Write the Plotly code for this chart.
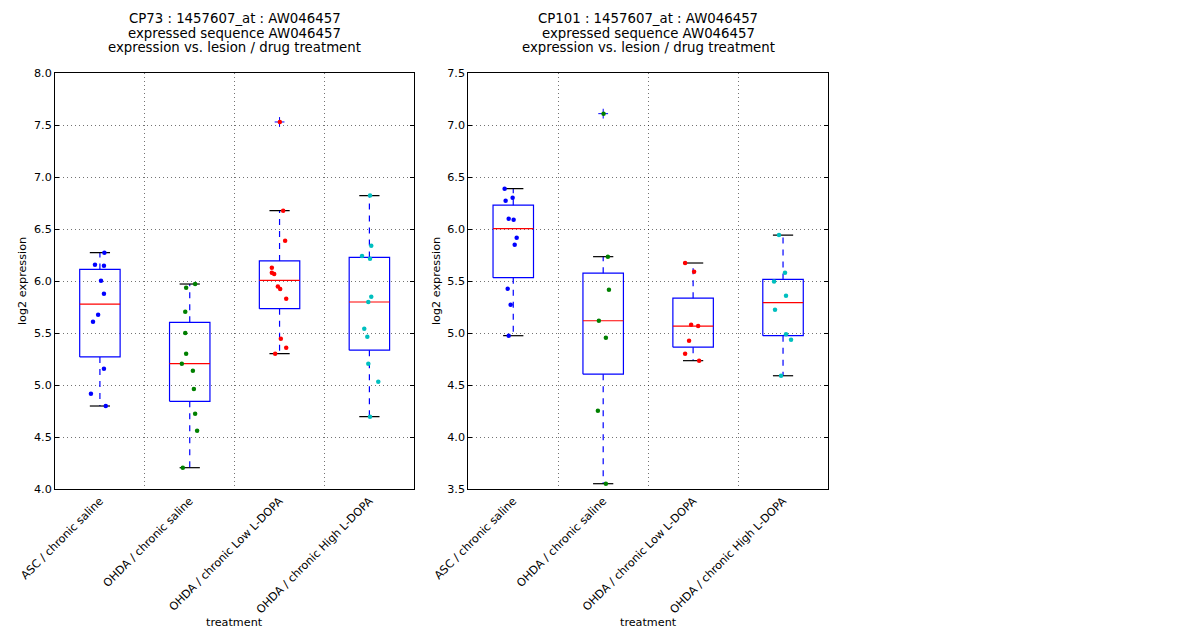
import numpy as np
import plotly.graph_objects as go

categories = ["ASC / chronic saline", "OHDA / chronic saline",
              "OHDA / chronic Low L-DOPA", "OHDA / chronic High L-DOPA"]
colors = ["#0000ff", "#008000", "#ff0000", "#00bfbf"]

# Left panel: CP73
cp73_asc = [6.272, 6.157, 6.147, 6.003, 5.878, 5.676, 5.609, 5.157, 4.916, 4.798]
cp73_ohda_sal = [5.971, 5.936, 5.705, 5.500, 5.301, 5.205, 5.138, 4.962, 4.724, 4.561, 4.205]
cp73_low = [7.529, 6.676, 6.388, 6.128, 6.080, 6.067, 5.946, 5.923, 5.830, 5.445, 5.359, 5.301]
cp73_high = [6.821, 6.340, 6.240, 6.214, 5.849, 5.798, 5.542, 5.465, 5.205, 5.032, 4.695]
cp73_jit_asc = [0.05, -0.055, 0.045, 0.012, 0.045, -0.02, -0.077, 0.045, -0.10, 0.065]
cp73_jit_ohda_sal = [0.06, -0.04, -0.05, -0.05, -0.04, -0.088, 0.035, 0.046, 0.06, 0.082, -0.077]
cp73_jit_low = [0.003, 0.04, 0.062, -0.086, -0.086, -0.06, -0.019, 0.007, 0.074, 0.014, 0.074, -0.049]
cp73_jit_high = [0.007, 0.021, -0.082, 0.007, 0.021, -0.012, -0.057, -0.023, -0.012, 0.099, 0.007]

# Right panel: CP101
cp101_asc = [6.388, 6.301, 6.272, 6.099, 6.090, 5.916, 5.849, 5.426, 5.272, 4.974]
cp101_ohda_sal = [7.109, 5.734, 5.416, 5.118, 4.955, 4.253, 3.551]
cp101_low = [5.673, 5.590, 5.080, 5.067, 4.926, 4.801, 4.734]
cp101_high = [5.942, 5.580, 5.494, 5.359, 5.224, 4.987, 4.936, 4.589]
cp101_jit_asc = [-0.096, -0.007, -0.085, -0.051, 0.004, 0.038, 0.016, -0.062, -0.029, -0.051]
cp101_jit_ohda_sal = [0.004, 0.052, 0.064, -0.048, 0.03, -0.059, 0.03]
cp101_jit_low = [-0.089, 0.011, -0.022, 0.056, -0.045, -0.089, 0.067]
cp101_jit_high = [-0.045, 0.022, -0.1, 0.033, -0.089, 0.033, 0.089, -0.022]

panels = [
    dict(title=["CP73 : 1457607_at : AW046457", "expressed sequence AW046457",
                "expression vs. lesion / drug treatment"],
         data=[cp73_asc, cp73_ohda_sal, cp73_low, cp73_high],
         jit=[cp73_jit_asc, cp73_jit_ohda_sal, cp73_jit_low, cp73_jit_high],
         yrange=[4.0, 8.0], xa="x", ya="y"),
    dict(title=["CP101 : 1457607_at : AW046457", "expressed sequence AW046457",
                "expression vs. lesion / drug treatment"],
         data=[cp101_asc, cp101_ohda_sal, cp101_low, cp101_high],
         jit=[cp101_jit_asc, cp101_jit_ohda_sal, cp101_jit_low, cp101_jit_high],
         yrange=[3.5, 7.5], xa="x2", ya="y2"),
]

W, H = 1200, 640
domains_x = [[55 / W, 414.3 / W], [468.3 / W, 828 / W]]
dom_y = [1 - 489 / H, 1 - 73 / H]
box_w = 0.45
cap_w = 0.225
TITLE_FS = 13.3
TICK_FS = 11.2
LABEL_FS = 11.2

fig = go.Figure()

for pi, p in enumerate(panels):
    xa, ya = p["xa"], p["ya"]
    for gi, vals in enumerate(p["data"]):
        pos = gi + 1
        v = np.array(vals)
        q1, med, q3 = np.percentile(v, [25, 50, 75])
        iqr = q3 - q1
        hi = v[v <= q3 + 1.5 * iqr].max()
        lo = v[v >= q1 - 1.5 * iqr].min()
        fl = v[(v > q3 + 1.5 * iqr) | (v < q1 - 1.5 * iqr)]
        common = dict(xaxis=xa, yaxis=ya, mode="lines", showlegend=False, hoverinfo="skip")
        # whiskers
        fig.add_trace(go.Scatter(x=[pos, pos], y=[q3, hi], line=dict(color="#0000ff", width=1.2, dash="6px,6px"), **common))
        fig.add_trace(go.Scatter(x=[pos, pos], y=[q1, lo], line=dict(color="#0000ff", width=1.2, dash="6px,6px"), **common))
        # caps
        fig.add_trace(go.Scatter(x=[pos - cap_w / 2, pos + cap_w / 2], y=[hi, hi], line=dict(color="black", width=1.2), **common))
        fig.add_trace(go.Scatter(x=[pos - cap_w / 2, pos + cap_w / 2], y=[lo, lo], line=dict(color="black", width=1.2), **common))
        # box
        fig.add_trace(go.Scatter(x=[pos - box_w / 2, pos + box_w / 2, pos + box_w / 2, pos - box_w / 2, pos - box_w / 2],
                                 y=[q1, q1, q3, q3, q1], line=dict(color="#0000ff", width=1.2), **common))
        # median
        fig.add_trace(go.Scatter(x=[pos - box_w / 2, pos + box_w / 2], y=[med, med], line=dict(color="#ff0000", width=1.2), **common))
        # fliers
        if len(fl):
            fig.add_trace(go.Scatter(x=[pos] * len(fl), y=fl, xaxis=xa, yaxis=ya, mode="markers",
                                     marker=dict(symbol="cross-thin", size=7, line=dict(color="#0000ff", width=1)),
                                     showlegend=False, hoverinfo="skip"))
        # points
        xs = [pos + j for j in p["jit"][gi]]
        fig.add_trace(go.Scatter(x=xs, y=vals, xaxis=xa, yaxis=ya, mode="markers",
                                 marker=dict(color=colors[gi], size=4.5, line=dict(width=0)),
                                 showlegend=False))

    cx = (domains_x[pi][0] + domains_x[pi][1]) / 2
    for li, line in enumerate(p["title"]):
        fig.add_annotation(text=line, x=cx, y=1 - (19 + 14.4 * li) / H, xref="paper", yref="paper",
                           xanchor="center", yanchor="middle", showarrow=False,
                           font=dict(size=TITLE_FS, color="black"))
    fig.add_annotation(text="log2 expression", textangle=-90, x=(22 if pi == 0 else 436) / W,
                       y=1 - 281 / H, xref="paper", yref="paper", xanchor="center", yanchor="middle",
                       showarrow=False, font=dict(size=LABEL_FS, color="black"))
    fig.add_annotation(text="treatment", x=cx, y=1 - 622 / H, xref="paper", yref="paper",
                       xanchor="center", yanchor="middle", showarrow=False,
                       font=dict(size=LABEL_FS, color="black"))

axis_common_x = dict(range=[0.5, 4.5], tickvals=[1, 2, 3, 4], ticktext=categories, tickangle=-45,
                     ticks="", showgrid=False, zeroline=False, showline=True, linecolor="black",
                     linewidth=1, mirror=True, tickfont=dict(size=TICK_FS, color="black"), automargin=False,
                     minor=dict(tick0=0.5, dtick=1, showgrid=True, gridcolor="rgba(0,0,0,0.55)",
                                griddash="1px,3px", gridwidth=1, ticks=""))
axis_common_y = dict(domain=dom_y, dtick=0.5, tickformat=".1f", ticks="inside", ticklen=4,
                     tickcolor="black", showgrid=True, gridcolor="rgba(0,0,0,0.55)", griddash="1px,3px",
                     gridwidth=1, zeroline=False, showline=True, linecolor="black", linewidth=1,
                     mirror="ticks", tickfont=dict(size=TICK_FS, color="black"), automargin=False)

fig.update_layout(
    width=W, height=H, autosize=False,
    margin=dict(l=0, r=0, t=0, b=0),
    paper_bgcolor="white", plot_bgcolor="white",
    font=dict(family="DejaVu Sans", color="black"),
    xaxis=dict(domain=domains_x[0], anchor="y", **axis_common_x),
    xaxis2=dict(domain=domains_x[1], anchor="y2", **axis_common_x),
    yaxis=dict(anchor="x", range=panels[0]["yrange"], **axis_common_y),
    yaxis2=dict(anchor="x2", range=panels[1]["yrange"], **axis_common_y),
)

fig.write_html("out.html", config={"displayModeBar": False},
               post_script="document.body.style.margin='0px';")
